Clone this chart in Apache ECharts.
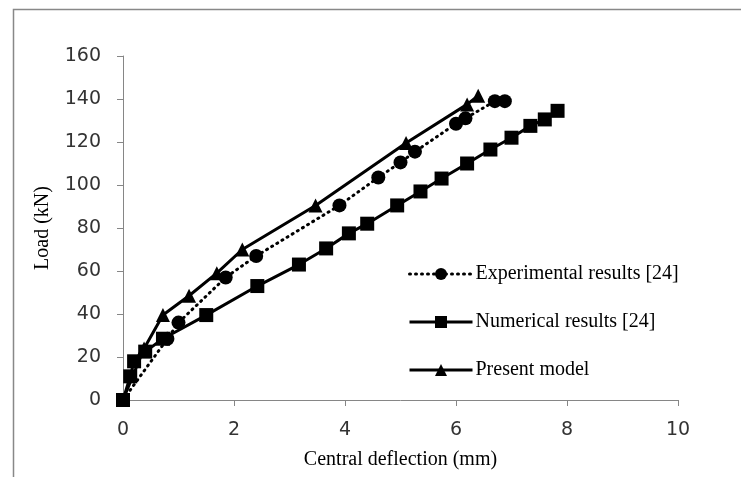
<!DOCTYPE html>
<html>
<head>
<meta charset="utf-8">
<title>Load - deflection</title>
<script src="https://cdn.jsdelivr.net/npm/echarts@6/dist/echarts.min.js"></script>
<style>
	html,body{margin:0;padding:0;background:#fff;}
	#main{width:741px;height:477px;}
</style>
</head>
<body>
<div id="main"></div>
<script type="text/javascript">
// 读图数据 (mm, kN)
var expX = [0, 0.8, 1.0, 1.85, 2.4, 3.9, 4.6, 5.0, 5.26, 6.0, 6.17, 6.7, 6.88];
var expY = [0, 28.5, 36, 57, 67, 90.5, 103.5, 110.5, 115.5, 128.5, 131, 139, 139];

var numX = [0, 0.13, 0.2, 0.4, 0.72, 1.5, 2.42, 3.17, 3.66, 4.07, 4.4, 4.94, 5.36, 5.74, 6.2, 6.62, 7.0, 7.34, 7.6, 7.83];
var numY = [0, 11, 18, 22.5, 28.5, 39.5, 53, 63, 70.5, 77.5, 82, 90.5, 97, 103, 110, 116.5, 122, 127.5, 130.5, 134.5];

var preX = [0, 0.38, 0.72, 1.19, 1.69, 2.15, 3.47, 5.1, 6.2, 6.4];
var preY = [0, 24, 39.5, 48.5, 59, 70, 90.5, 119.5, 137.5, 141.5];

var names = ['Experimental results [24]', 'Numerical results [24]', 'Present model'];

function pairs(xs, ys){
	return xs.map(function(x, i){ return [x, ys[i]]; });
}

var chart = echarts.init(document.getElementById('main'));
var axisCol = '#868686';
var serif = '"Liberation Serif", "Times New Roman", serif';
var sans = '"DejaVu Sans", sans-serif';

var option = {
	backgroundColor: '#fff',
	animation: false,
	graphic: [{
		type: 'rect',
		left: 11, top: 7,
		shape: {width: 800, height: 520},
		style: {fill: 'none', stroke: '#888', lineWidth: 1.5}
	}],
	grid: {left: 123, top: 56, width: 555, height: 344},
	legend: {
		orient: 'vertical',
		left: 403, top: 259,
		itemWidth: 63, itemHeight: 15, itemGap: 28,
		lineStyle: {width: 3},
		textStyle: {fontFamily: serif, fontSize: 20, color: '#000', padding: [0, 0, 0, -2]},
		data: names
	},
	xAxis: {
		type: 'value', min: 0, max: 10, interval: 2,
		name: 'Central deflection (mm)', nameLocation: 'middle', nameGap: 50,
		nameTextStyle: {fontFamily: serif, fontSize: 20, color: '#000'},
		axisLine: {lineStyle: {color: axisCol, width: 1}},
		axisTick: {show: true, length: 6, lineStyle: {color: axisCol}},
		axisLabel: {margin: 21, fontFamily: sans, fontSize: 19, color: '#333'},
		splitLine: {show: false}
	},
	yAxis: {
		type: 'value', min: 0, max: 160, interval: 20,
		name: 'Load (kN)', nameLocation: 'middle', nameGap: 70,
		nameTextStyle: {fontFamily: serif, fontSize: 20, color: '#000'},
		axisLine: {show: true, lineStyle: {color: axisCol, width: 1}},
		axisTick: {show: true, length: 6, lineStyle: {color: axisCol}},
		axisLabel: {margin: 22, fontFamily: sans, fontSize: 19, color: '#333'},
		splitLine: {show: false}
	},
	series: [
		{
			name: names[0], type: 'line',
			data: pairs(expX, expY),
			symbol: 'circle', symbolSize: 14,
			itemStyle: {color: '#000'},
			lineStyle: {color: '#000', width: 3, type: [1, 5], cap: 'round'}
		},
		{
			name: names[1], type: 'line',
			data: pairs(numX, numY),
			symbol: 'rect', symbolSize: 14,
			itemStyle: {color: '#000'},
			lineStyle: {color: '#000', width: 3}
		},
		{
			name: names[2], type: 'line',
			data: pairs(preX, preY),
			symbol: 'triangle', symbolSize: 14,
			itemStyle: {color: '#000'},
			lineStyle: {color: '#000', width: 3}
		}
	]
};

chart.setOption(option);
</script>
</body>
</html>
